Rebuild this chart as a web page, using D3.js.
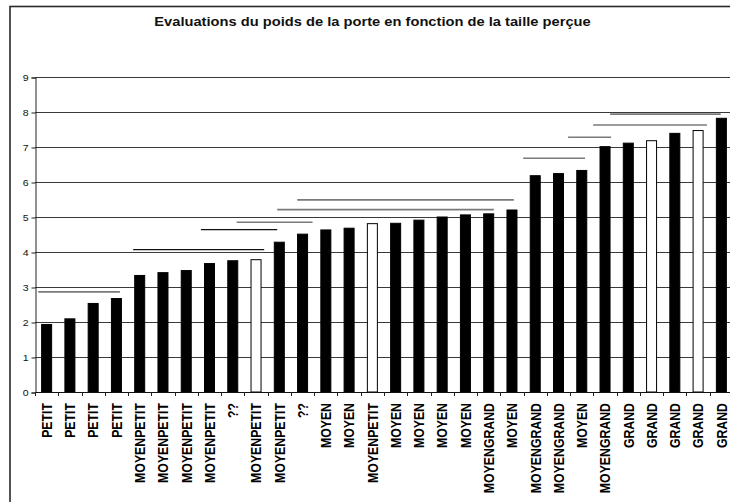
<!DOCTYPE html>
<html>
<head>
<meta charset="utf-8">
<script src="https://cdn.jsdelivr.net/npm/d3@7"></script>
<style>
  html, body { margin: 0; padding: 0; background: #fff; overflow: hidden; }
  svg { display: block; }
  text { font-family: "Liberation Sans", Arial, sans-serif; }
</style>
</head>
<body>
<svg id="chart" width="730" height="502"></svg>
<script>
// Perceived size category given by each participant
const categories = [
  "PETIT", "PETIT", "PETIT", "PETIT",
  "MOYENPETIT", "MOYENPETIT", "MOYENPETIT", "MOYENPETIT",
  "??", "MOYENPETIT", "MOYENPETIT", "??",
  "MOYEN", "MOYEN", "MOYENPETIT",
  "MOYEN", "MOYEN", "MOYEN", "MOYEN",
  "MOYENGRAND", "MOYEN", "MOYENGRAND", "MOYENGRAND",
  "MOYEN", "MOYENGRAND",
  "GRAND", "GRAND", "GRAND", "GRAND", "GRAND"
];

// Estimated door weight for each participant
const weights = [
  1.93, 2.09, 2.53, 2.67,
  3.33, 3.41, 3.47, 3.67,
  3.75, 3.78, 4.28, 4.51,
  4.63, 4.68, 4.81,
  4.82, 4.91, 5.00, 5.06,
  5.09, 5.20, 6.18, 6.24,
  6.33, 7.01,
  7.11, 7.18, 7.39, 7.47, 7.82
];

// Participants shown with an open bar (0-based positions)
const openBars = [9, 14, 26, 28];

// Groupings drawn above the bars: level, first and last position (in category units)
const groupLevel = [2.86, 4.07, 4.64, 4.85, 5.21, 5.49, 6.68, 7.28, 7.63, 7.94];
const groupFrom  = [-0.36, 3.72, 6.63, 8.17, 9.91, 10.77, 20.48, 22.41, 23.49, 24.22];
const groupTo    = [3.15, 9.35, 9.91, 11.43, 19.22, 20.08, 23.14, 24.26, 28.38, 28.97];

const yTicks = [0, 1, 2, 3, 4, 5, 6, 7, 8, 9];
const title = "Evaluations du poids de la porte en fonction de la taille perçue";

// Text is drawn slightly widened horizontally
const stretch = 1.2;

const svg = d3.select("#chart");

// Outer chart frame (extends past the visible window on the right and bottom)
svg.append("rect")
  .attr("x", 10).attr("y", 6.5)
  .attr("width", 725).attr("height", 520)
  .attr("fill", "none")
  .attr("stroke", "#2a2a2a")
  .attr("stroke-width", 1.6);

svg.append("text")
  .attr("transform", `translate(372.5,26) scale(${stretch * 1.02},1)`)
  .attr("text-anchor", "middle")
  .attr("font-size", "12px")
  .attr("font-weight", "bold")
  .attr("fill", "#111")
  .text(title);

const plotLeft = 35, plotRight = 733, plotTop = 77, plotBottom = 392;
const n = categories.length;
const ids = d3.range(n);

const x = d3.scaleBand()
  .domain(ids)
  .range([plotLeft, plotRight])
  .paddingInner(0.57)
  .paddingOuter(0.285);

const xPos = d3.scaleLinear()
  .domain([-0.5, n - 0.5])
  .range([plotLeft, plotRight]);

const y = d3.scaleLinear()
  .domain([0, 9])
  .range([plotBottom, plotTop]);

// Horizontal gridlines
svg.append("g")
  .selectAll("line")
  .data(yTicks.filter(t => t > 0))
  .join("line")
  .attr("x1", plotLeft).attr("x2", 735)
  .attr("y1", d => Math.round(y(d)) + 0.5)
  .attr("y2", d => Math.round(y(d)) + 0.5)
  .attr("stroke", "#3a3a3a")
  .attr("stroke-width", 1);

// Y axis
const yAxis = svg.append("g")
  .attr("transform", `translate(${plotLeft + 0.5},0.5)`)
  .call(d3.axisLeft(y).tickValues(yTicks).tickSize(4).tickPadding(3).tickFormat(d3.format("d")));
yAxis.select(".domain").attr("stroke", "#222");
yAxis.selectAll(".tick line").attr("stroke", "#222");
yAxis.selectAll(".tick text")
  .attr("x", null)
  .attr("transform", `translate(-7,0) scale(${stretch},1)`)
  .attr("font-size", "8.8px")
  .attr("fill", "#111")
  .style("font-family", "'Liberation Sans', Arial, sans-serif");

// Bars
svg.append("g")
  .selectAll("rect")
  .data(ids)
  .join("rect")
  .attr("x", i => x(i))
  .attr("width", x.bandwidth())
  .attr("y", i => y(weights[i]))
  .attr("height", i => y(0) - y(weights[i]))
  .attr("fill", i => openBars.includes(i) ? "#fff" : "#000")
  .attr("stroke", "#000")
  .attr("stroke-width", 1);

// X axis baseline and category boundary ticks
svg.append("line")
  .attr("x1", plotLeft).attr("x2", 735)
  .attr("y1", plotBottom + 0.5).attr("y2", plotBottom + 0.5)
  .attr("stroke", "#111");

svg.append("g")
  .selectAll("line")
  .data(d3.range(n + 1))
  .join("line")
  .attr("x1", k => Math.round(xPos(k - 0.5)) + 0.5)
  .attr("x2", k => Math.round(xPos(k - 0.5)) + 0.5)
  .attr("y1", plotBottom)
  .attr("y2", plotBottom + 4)
  .attr("stroke", "#222");

// Category labels, rotated
svg.append("g")
  .selectAll("text")
  .data(ids)
  .join("text")
  .attr("transform", i => `translate(${x(i) + x.bandwidth() / 2},403) scale(${stretch},1) rotate(-90)`)
  .attr("text-anchor", "end")
  .attr("dy", "0.36em")
  .attr("font-size", "12.3px")
  .attr("font-weight", "bold")
  .attr("fill", "#000")
  .text(i => categories[i]);

// Group lines above the bars
const darkGroups = [1, 2];
svg.append("g")
  .selectAll("line")
  .data(d3.range(groupLevel.length))
  .join("line")
  .attr("x1", g => xPos(groupFrom[g]))
  .attr("x2", g => xPos(groupTo[g]))
  .attr("y1", g => y(groupLevel[g]))
  .attr("y2", g => y(groupLevel[g]))
  .attr("stroke", g => darkGroups.includes(g) ? "#111" : "#7a7a7a")
  .attr("stroke-width", g => darkGroups.includes(g) ? 1.2 : 1.6);
</script>
</body>
</html>
